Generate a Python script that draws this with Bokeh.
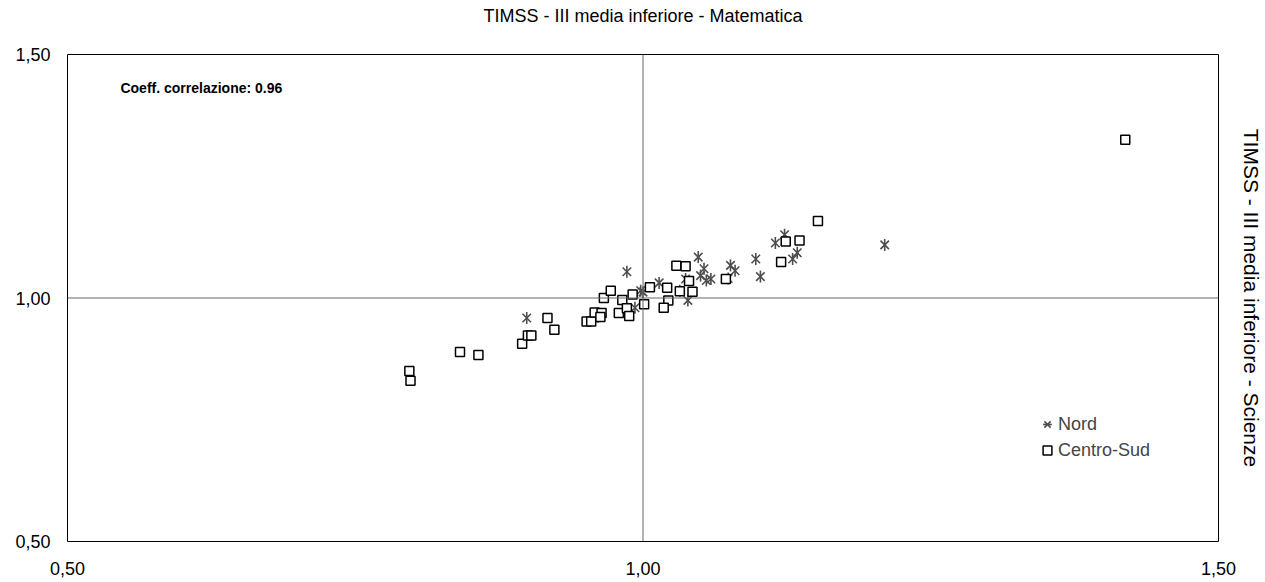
import math
from bokeh.plotting import figure
from bokeh.models import (Range1d, Label, Span, Legend, LegendItem, FixedTicker,
                          CustomJSTickFormatter, LinearAxis)
from bokeh.embed import file_html
from bokeh.resources import INLINE

# Nord (asterisk markers)
nord_x = [0.899, 0.986, 0.993, 1.000, 0.961, 1.014, 0.998, 1.210, 1.123, 1.115,
          1.134, 1.130, 1.098, 1.102, 1.076, 1.080, 1.074, 1.048, 1.053, 1.050,
          1.055, 1.059, 1.037, 1.039, 1.032]
nord_y = [0.959, 1.054, 0.980, 1.012, 0.961, 1.031, 1.015, 1.109, 1.130, 1.113,
          1.093, 1.080, 1.080, 1.044, 1.067, 1.056, 1.040, 1.084, 1.060, 1.046,
          1.036, 1.039, 1.039, 0.995, 1.015]

# Centro-Sud (square markers)
cs_x = [0.797, 0.798, 0.841, 0.857, 0.895, 0.900, 0.903, 0.917, 0.923, 0.951,
        0.955, 0.958, 0.964, 0.963, 0.966, 0.972, 0.979, 0.982, 0.986, 0.988,
        0.991, 1.001, 1.006, 1.152, 1.124, 1.136, 1.120, 1.029, 1.037, 1.072,
        1.040, 1.021, 1.032, 1.043, 1.022, 1.018, 1.419]
cs_y = [0.850, 0.830, 0.889, 0.883, 0.906, 0.923, 0.923, 0.959, 0.935, 0.952,
        0.952, 0.970, 0.969, 0.961, 1.000, 1.015, 0.969, 0.996, 0.979, 0.963,
        1.007, 0.987, 1.022, 1.158, 1.116, 1.118, 1.074, 1.066, 1.065, 1.039,
        1.035, 1.021, 1.014, 1.013, 0.995, 0.980, 1.325]

tick_values = [0.5, 1.0, 1.5]
title_text = "TIMSS - III media inferiore - Matematica"
ytitle_text = "TIMSS - III media inferiore - Scienze"
corr_text = "Coeff. correlazione: 0.96"
series_names = ["Nord", "Centro-Sud"]

FONT = "Liberation Sans"
FS = "18px"

p = figure(width=1265, height=582, output_backend="svg", toolbar_location=None,
           x_range=Range1d(0.5, 1.5), y_range=Range1d(0.5, 1.5),
           min_border_left=67, min_border_right=45, min_border_top=54, min_border_bottom=41)
p.background_fill_color = "white"
p.border_fill_color = "white"
p.outline_line_color = "black"
p.outline_line_width = 1
p.grid.visible = False

fmt = CustomJSTickFormatter(code="return tick.toFixed(2).replace('.', ',');")
for ax in (p.xaxis[0], p.yaxis[0]):
    ax.ticker = FixedTicker(ticks=tick_values)
    ax.formatter = fmt
    ax.axis_line_color = None
    ax.major_tick_line_color = None
    ax.minor_tick_line_color = None
    ax.major_tick_in = 0
    ax.major_tick_out = 0
    ax.major_label_text_font = FONT
    ax.major_label_text_font_size = FS
    ax.major_label_text_color = "black"
p.xaxis.major_label_standoff = 20
p.yaxis.major_label_standoff = 17


def title_axis(text, standoff, size):
    ax = LinearAxis(ticker=FixedTicker(ticks=[]), axis_label=text,
                    axis_line_color=None, major_tick_line_color=None,
                    minor_tick_line_color=None, major_tick_in=0, major_tick_out=0,
                    minor_tick_in=0, minor_tick_out=0, major_label_standoff=0,
                    major_label_text_font_size="0px",
                    axis_label_standoff=standoff, axis_label_text_font=FONT,
                    axis_label_text_font_size=size, axis_label_text_font_style="normal",
                    axis_label_text_color="black")
    return ax


p.add_layout(title_axis(title_text, 29, FS), "above")
p.add_layout(title_axis(ytitle_text, 21, "21px"), "right")

# reference lines at 1,00
p.add_layout(Span(location=1.0, dimension="height", line_color="#666666", line_width=1))
p.add_layout(Span(location=1.0, dimension="width", line_color="#666666", line_width=1))

r_nx = p.scatter(nord_x, nord_y, marker="x", size=12, line_color="#4d4d4d", line_width=1.6)
r_nd = p.scatter(nord_x, nord_y, marker="dash", angle=math.pi / 2, size=12,
                 line_color="#4d4d4d", line_width=1.6)
r_cs = p.scatter(cs_x, cs_y, marker="square", size=9, fill_color="white",
                 line_color="black", line_width=1.5)

legend = Legend(items=[LegendItem(label=series_names[0], renderers=[r_nx, r_nd]),
                       LegendItem(label=series_names[1], renderers=[r_cs])],
                location=(969, 80), glyph_width=22, glyph_height=22, label_standoff=0,
                spacing=4, padding=0, margin=0, border_line_color=None,
                background_fill_alpha=0, label_text_font=FONT,
                label_text_font_size=FS, label_height=21)
p.add_layout(legend, "center")

p.add_layout(Label(x=0.546, y=1.432, text=corr_text, text_align="left",
                   text_baseline="middle", text_font=FONT, text_font_size="14px",
                   text_font_style="bold", text_color="black"))

open("out.html", "w").write(file_html(p, INLINE))
